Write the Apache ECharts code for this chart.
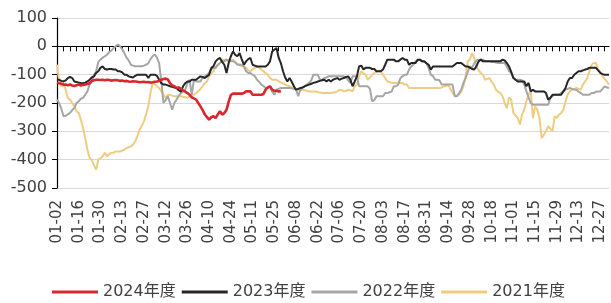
<!DOCTYPE html>
<html>
<head>
<meta charset="utf-8">
<script src="https://cdn.jsdelivr.net/npm/echarts@6/dist/echarts.min.js"></script>
<style>
  html, body { margin: 0; padding: 0; background: #fff; }
  #chart { width: 611px; height: 303px; }
</style>
</head>
<body>
<div id="chart"></div>
<script>
// labelled dates on the x axis, one every 10 trading days
const tickDates = ['01-02', '01-16', '01-30', '02-13', '02-27', '03-12', '03-26', '04-10', '04-24',
  '05-11', '05-25', '06-08', '06-22', '07-06', '07-20', '08-03', '08-17', '08-31', '09-14',
  '09-28', '10-18', '11-01', '11-15', '11-29', '12-13', '12-27'];

const yTicks = [-500, -400, -300, -200, -100, 0, 100];

const seriesNames = ['2024年度', '2023年度', '2022年度', '2021年度'];

const s2024 = [
  -128, -130, -132, -135, -135, -137, -135, -138, -140, -137,
  -135, -138, -136, -135, -133, -130, -122, -120, -118, -118,
  -119, -118, -120, -118, -119, -121, -120, -119, -120, -122,
  -121, -123, -122, -124, -125, -123, -124, -125, -127, -126,
  -125, -127, -126, -128, -127, -125, -124, -122, -118, -115,
  -114, -117, -130, -138, -141, -147, -145, -150, -155, -160,
  -165, -171, -180, -184, -188, -200, -212, -225, -240, -250,
  -259, -250, -247, -253, -240, -229, -241, -235, -224, -195,
  -171, -167, -167, -167, -167, -167, -165, -159, -159, -159,
  -171, -171, -171, -171, -171, -168, -153, -145, -141, -153,
  -157, -157, -159, -159
];

const s2023 = [
  -118, -118, -122, -124, -120, -112, -108, -112, -124, -126,
  -128, -130, -130, -128, -124, -118, -110, -106, -94, -88,
  -76, -71, -80, -82, -80, -80, -82, -82, -88, -88,
  -92, -100, -100, -106, -108, -110, -104, -100, -100, -100,
  -100, -100, -112, -100, -100, -100, -104, -118, -130, -135,
  -135, -138, -141, -143, -145, -147, -155, -160, -141, -130,
  -124, -124, -118, -118, -118, -112, -106, -108, -112, -106,
  -100, -76, -70, -53, -45, -41, -55, -65, -94, -59,
  -35, -18, -30, -35, -24, -45, -65, -53, -45, -41,
  -65, -68, -71, -71, -71, -71, -71, -65, -53, -18,
  -12, -6, -40, -59, -88, -110, -124, -112, -125, -141,
  -153, -150, -147, -145, -141, -138, -135, -132, -129, -127,
  -124, -122, -120, -118, -124, -118, -124, -118, -115, -112,
  -118, -114, -112, -108, -106, -118, -141, -124, -106, -71,
  -68, -82, -76, -76, -76, -80, -80, -88, -88, -88,
  -82, -65, -47, -47, -47, -47, -53, -53, -47, -41,
  -47, -47, -65, -59, -59, -59, -47, -47, -53, -53,
  -60, -65, -82, -71, -71, -71, -71, -71, -71, -71,
  -71, -71, -71, -65, -59, -59, -59, -65, -71, -71,
  -75, -80, -82, -70, -53, -47, -53, -53, -53, -53,
  -53, -53, -53, -53, -53, -47, -50, -59, -71, -90,
  -112, -118, -124, -124, -124, -124, -141, -129, -159, -153,
  -159, -159, -159, -159, -159, -165, -188, -182, -171, -171,
  -171, -171, -171, -159, -147, -124, -112, -112, -100, -94,
  -88, -88, -85, -82, -80, -76, -76, -76, -76, -85,
  -94, -98, -100, -100, -100
];

const s2022 = [
  -188, -200, -220, -247, -245, -240, -235, -225, -218, -200,
  -194, -185, -182, -170, -159, -135, -125, -100, -88, -55,
  -47, -40, -35, -30, -20, -15, -6, 0, 6, 0,
  -10, -24, -40, -50, -65, -68, -70, -70, -70, -70,
  -68, -65, -60, -45, -35, -29, -40, -60, -124, -200,
  -190, -176, -200, -224, -200, -188, -175, -165, -160, -153,
  -130, -118, -171, -118, -124, -124, -124, -110, -106, -100,
  -94, -80, -76, -76, -65, -59, -53, -53, -47, -50,
  -53, -53, -55, -65, -65, -65, -71, -88, -94, -94,
  -100, -105, -118, -125, -135, -140, -147, -147, -141, -159,
  -171, -153, -150, -147, -147, -147, -147, -147, -148, -150,
  -153, -176, -153, -147, -140, -135, -129, -120, -100, -100,
  -100, -118, -118, -112, -110, -106, -106, -106, -106, -106,
  -106, -106, -106, -110, -120, -129, -106, -106, -106, -141,
  -141, -141, -141, -141, -150, -194, -190, -176, -176, -176,
  -176, -165, -165, -162, -159, -141, -141, -135, -112, -106,
  -100, -100, -82, -70, -65, -53, -50, -47, -53, -55,
  -59, -76, -100, -105, -118, -118, -120, -135, -135, -135,
  -135, -135, -135, -176, -176, -165, -153, -130, -112, -90,
  -71, -76, -60, -50, -47, -47, -47, -53, -53, -53,
  -55, -55, -57, -59, -59, -59, -59, -71, -88, -94,
  -110, -118, -118, -118, -120, -135, -159, -180, -200, -206,
  -206, -206, -206, -206, -206, -206, -206, -182, -176, -171,
  -171, -171, -165, -159, -153, -150, -147, -150, -153, -153,
  -160, -165, -171, -171, -171, -171, -165, -165, -160, -159,
  -159, -150, -141, -145, -147
];

const s2021 = [
  -65, -124, -141, -135, -153, -182, -188, -200, -212, -229,
  -235, -259, -288, -324, -365, -394, -400, -420, -435, -400,
  -395, -388, -376, -388, -380, -376, -376, -371, -371, -371,
  -368, -365, -359, -356, -353, -347, -335, -318, -294, -280,
  -265, -240, -212, -165, -129, -135, -141, -147, -159, -170,
  -182, -171, -172, -174, -176, -176, -176, -176, -178, -180,
  -182, -176, -176, -171, -165, -159, -150, -141, -130, -124,
  -106, -95, -88, -71, -65, -59, -47, -47, -47, -53,
  -50, -47, -59, -62, -65, -71, -71, -76, -85, -88,
  -82, -76, -71, -76, -82, -88, -95, -100, -112, -118,
  -118, -118, -124, -128, -130, -135, -138, -141, -145, -150,
  -153, -153, -153, -153, -155, -157, -159, -159, -159, -159,
  -162, -163, -165, -165, -165, -165, -165, -163, -162, -159,
  -153, -155, -159, -157, -153, -155, -159, -141, -135, -106,
  -88, -95, -100, -118, -110, -100, -94, -90, -88, -88,
  -100, -112, -124, -126, -129, -129, -129, -129, -129, -130,
  -135, -135, -147, -147, -147, -147, -147, -147, -147, -147,
  -147, -147, -147, -147, -147, -147, -147, -145, -141, -141,
  -135, -150, -165, -172, -176, -171, -160, -141, -106, -53,
  -47, -24, -41, -71, -85, -94, -100, -118, -115, -112,
  -125, -135, -153, -160, -165, -176, -200, -218, -180, -188,
  -235, -244, -253, -276, -240, -224, -194, -170, -159, -253,
  -212, -224, -253, -324, -312, -300, -282, -290, -300, -247,
  -253, -241, -235, -224, -194, -170, -159, -153, -150, -147,
  -150, -153, -135, -124, -112, -88, -65, -59, -59, -82,
  -90, -106, -115, -124, -135
];

const colors = ['#d7282d', '#262626', '#a6a6a6', '#efcc80'];
const FONT = "'DejaVu Sans', 'Noto Sans CJK SC', sans-serif";

// fill the x axis with trading days between the labelled dates
function pad(n) { return (n < 10 ? '0' : '') + n; }
function weekdaysAfter(md, count) {
  const d = new Date(2024, +md.slice(0, 2) - 1, +md.slice(3));
  const out = [];
  while (out.length < count) {
    d.setDate(d.getDate() + 1);
    const w = d.getDay();
    if (w === 0 || w === 6) continue;
    out.push(pad(d.getMonth() + 1) + '-' + pad(d.getDate()));
  }
  return out;
}
const categories = [];
tickDates.forEach((md, i) => {
  categories.push(md);
  if (i < tickDates.length - 1) categories.push(...weekdaysAfter(md, 9));
});
categories.push('12-28', '12-29', '12-30', '12-31');

const chart = echarts.init(document.getElementById('chart'), null, { renderer: 'canvas' });

const seriesData = [s2024, s2023, s2022, s2021];

chart.setOption({
  animation: false,
  textStyle: { fontFamily: FONT },
  grid: { left: 57, right: 2, top: 18, bottom: 115, containLabel: false },
  legend: {
    data: seriesNames,
    left: 47,
    top: 279,
    icon: 'rect',
    itemWidth: 46,
    itemHeight: 3,
    itemGap: 6,
    textStyle: { fontSize: 16, color: '#404040', fontFamily: FONT }
  },
  xAxis: {
    type: 'category',
    data: categories,
    boundaryGap: false,
    axisLine: { lineStyle: { color: '#000', width: 1.2 } },
    axisTick: {
      show: true,
      length: 5,
      interval: (idx) => idx % 3 === 0,
      lineStyle: { color: '#000' }
    },
    axisLabel: {
      interval: 9,
      rotate: 90,
      margin: 12,
      fontSize: 15,
      color: '#404040',
      fontFamily: FONT
    },
    splitLine: { show: false }
  },
  yAxis: {
    type: 'value',
    min: yTicks[0],
    max: yTicks[yTicks.length - 1],
    interval: 100,
    axisLine: { show: true, lineStyle: { color: '#000', width: 1.2 } },
    axisTick: { show: true, length: 5, lineStyle: { color: '#000' } },
    axisLabel: { fontSize: 16, color: '#404040', margin: 10, fontFamily: FONT },
    splitLine: { lineStyle: { color: '#d9d9d9', width: 1 } }
  },
  series: seriesNames.map((name, i) => ({
    name: name,
    type: 'line',
    data: seriesData[i],
    symbol: 'none',
    z: i === 0 ? 5 : 4 - i,
    lineStyle: { color: colors[i], width: i === 0 ? 2.6 : 2 },
    itemStyle: { color: colors[i] }
  }))
});
</script>
</body>
</html>
